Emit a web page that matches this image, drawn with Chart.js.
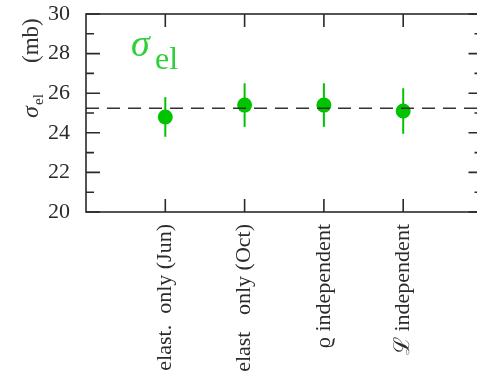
<!DOCTYPE html>
<html>
<head>
<meta charset="utf-8">
<script src="https://cdn.jsdelivr.net/npm/chart.js@4/dist/chart.umd.min.js"></script>
<style>
  html, body { margin: 0; padding: 0; background: #fff; overflow: hidden; }
  #wrap { width: 477px; height: 391px; overflow: hidden; }
  canvas { display: block; }
</style>
</head>
<body>
<div id="wrap"><canvas id="chart" width="490" height="391"></canvas></div>
<script>
// fit results, sigma_el in mb
const categories = ['elast.  only (Jun)', 'elast   only (Oct)', '\u03F1 independent', '\u2112 independent'];
const positions = [1, 2, 3, 4];
const sigmaEl = [24.8, 25.4, 25.4, 25.1];
const sigmaErr = [1.0, 1.1, 1.1, 1.15];
const reference = 25.24;
const yMajor = [20, 22, 24, 26, 28, 30];
const yMinor = [21, 23, 25, 27, 29];

const GREEN = '#00c400';
const INK = '#2a2a2a';
const SERIF = '"Liberation Serif", "DejaVu Serif", serif';

// frame, inward ticks, error bars and the sigma labels
const decorations = {
  id: 'decorations',
  beforeDatasetsDraw(chart) {
    const { ctx, scales: { x, y } } = chart;
    ctx.save();
    ctx.strokeStyle = GREEN;
    ctx.lineWidth = 2;
    sigmaEl.forEach((v, i) => {
      const px = x.getPixelForValue(positions[i]);
      ctx.beginPath();
      ctx.moveTo(px, y.getPixelForValue(v - sigmaErr[i]));
      ctx.lineTo(px, y.getPixelForValue(v + sigmaErr[i]));
      ctx.stroke();
    });
    ctx.restore();
  },
  afterDraw(chart) {
    const { ctx, chartArea: a, scales: { x, y } } = chart;
    ctx.save();
    ctx.strokeStyle = INK;
    ctx.lineWidth = 1.6;
    ctx.strokeRect(a.left, a.top, a.right - a.left, a.bottom - a.top);

    ctx.beginPath();
    yMajor.forEach((v) => {
      const py = y.getPixelForValue(v);
      ctx.moveTo(a.left, py); ctx.lineTo(a.left + 14, py);
      ctx.moveTo(a.right, py); ctx.lineTo(a.right - 14, py);
    });
    yMinor.forEach((v) => {
      const py = y.getPixelForValue(v);
      ctx.moveTo(a.left, py); ctx.lineTo(a.left + 8, py);
      ctx.moveTo(a.right, py); ctx.lineTo(a.right - 8, py);
    });
    positions.forEach((p) => {
      const px = x.getPixelForValue(p);
      ctx.moveTo(px, a.top); ctx.lineTo(px, a.top + 13);
      ctx.moveTo(px, a.bottom); ctx.lineTo(px, a.bottom - 13);
    });
    ctx.stroke();

    // label inside the plot
    ctx.fillStyle = '#2fcf3a';
    ctx.textBaseline = 'alphabetic';
    ctx.font = 'italic 38px ' + SERIF;
    ctx.fillText('\u03C3', 131, 56);
    ctx.font = '32px ' + SERIF;
    ctx.fillText('el', 155, 69);

    // y axis title
    ctx.translate(38, 118);
    ctx.rotate(-Math.PI / 2);
    ctx.fillStyle = '#333';
    ctx.font = 'italic 24px ' + SERIF;
    ctx.fillText('\u03C3', 0, 0);
    ctx.font = '15px ' + SERIF;
    ctx.fillText('el', 13, 5);
    ctx.font = '23px ' + SERIF;
    ctx.fillText('(mb)', 55, 0);
    ctx.restore();
  }
};

new Chart(document.getElementById('chart'), {
  type: 'scatter',
  data: {
    datasets: [
      {
        type: 'line',
        data: [{ x: 0, y: reference }, { x: 5, y: reference }],
        borderColor: '#333',
        borderWidth: 1.6,
        borderDash: [13, 8],
        pointRadius: 0
      },
      {
        data: positions.map((p, i) => ({ x: p, y: sigmaEl[i] })),
        backgroundColor: GREEN,
        borderColor: GREEN,
        pointRadius: 7.5,
        pointBorderWidth: 0
      }
    ]
  },
  options: {
    responsive: false,
    animation: false,
    events: [],
    layout: { padding: { top: 14, right: 4, left: 0, bottom: 0 } },
    plugins: { legend: { display: false }, tooltip: { enabled: false } },
    scales: {
      x: {
        type: 'linear',
        min: 0,
        max: 5,
        afterBuildTicks: (scale) => { scale.ticks = positions.map((v) => ({ value: v })); },
        afterFit: (scale) => {
          scale.height = 391 - 212;
          scale.paddingLeft = 0;
          scale.paddingRight = 0;
        },
        grid: { display: false },
        border: { display: false },
        ticks: {
          autoSkip: false,
          minRotation: 90,
          maxRotation: 90,
          padding: 4,
          color: INK,
          font: { family: SERIF, size: 22 },
          callback: (v) => categories[positions.indexOf(v)] || ''
        }
      },
      y: {
        min: 20,
        max: 30,
        afterFit: (scale) => {
          scale.width = 86;
          scale.paddingTop = 0;
          scale.paddingBottom = 0;
        },
        grid: { display: false },
        border: { display: false },
        ticks: {
          stepSize: 2,
          padding: 8,
          color: INK,
          font: { family: SERIF, size: 22 }
        }
      }
    }
  },
  plugins: [decorations]
});
</script>
</body>
</html>
